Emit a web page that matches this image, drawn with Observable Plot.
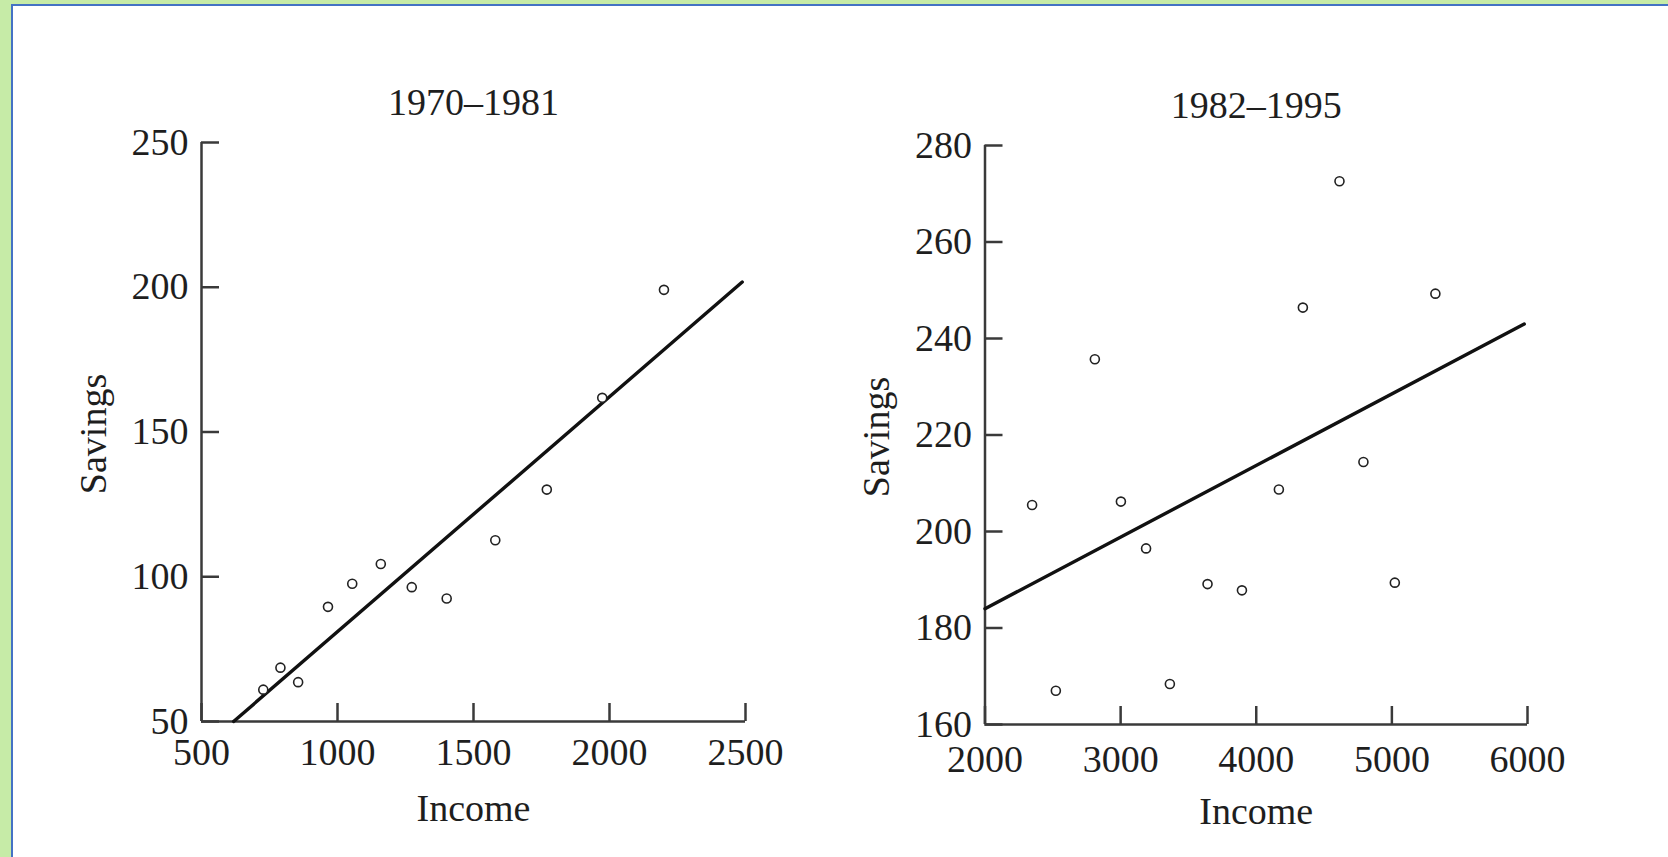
<!DOCTYPE html>
<html>
<head>
<meta charset="utf-8">
<script src="https://cdn.jsdelivr.net/npm/d3@7"></script>
<script src="https://cdn.jsdelivr.net/npm/@observablehq/plot@0.6"></script>
<style>
  html, body { margin: 0; padding: 0; width: 1668px; height: 857px; overflow: hidden; background: #c6eba7; }
  #card { position: absolute; left: 11px; top: 4px; width: 1680px; height: 870px; background: #fff;
          border-left: 2px solid #4472c4; border-top: 2px solid #4472c4; }
  .panel { position: absolute; top: 0; }
  .panel svg { display: block; overflow: visible; }
</style>
</head>
<body>
<div id="card"></div>
<div id="left" class="panel" style="left:0px"></div>
<div id="right" class="panel" style="left:834px"></div>
<script>
// ---- Data: 1970–1981 ----
const incomeA  = [727.1, 790.2, 855.3, 965.0, 1054.2, 1159.2, 1273.0, 1401.4, 1580.1, 1769.5, 1973.3, 2200.2];
const savingsA = [61.0, 68.6, 63.6, 89.6, 97.6, 104.4, 96.4, 92.5, 112.6, 130.1, 161.8, 199.1];
const fitIncomeA  = [618, 2488];
const fitSavingsA = [50, 201.8];
const xTicksA = [500, 1000, 1500, 2000, 2500];
const yTicksA = [50, 100, 150, 200, 250];

// ---- Data: 1982–1995 ----
const incomeB  = [2347.3, 2522.4, 2810.0, 3002.0, 3187.6, 3363.1, 3640.8, 3894.5, 4166.8, 4343.7, 4613.7, 4790.2, 5021.7, 5320.8];
const savingsB = [205.5, 167.0, 235.7, 206.2, 196.5, 168.4, 189.1, 187.8, 208.7, 246.4, 272.6, 214.4, 189.4, 249.3];
const fitIncomeB  = [2000, 5976];
const fitSavingsB = [184.0, 243.0];
const xTicksB = [2000, 3000, 4000, 5000, 6000];
const yTicksB = [160, 180, 200, 220, 240, 260, 280];

const titles = ["1970–1981", "1982–1995"];
const xLabel = "Income";
const yLabel = "Savings";

const FONT = "'Liberation Serif', 'Times New Roman', serif";

function panel({income, savings, fitX, fitY, xTicks, yTicks, title, m, xPad}) {
  const W = 834, H = 857;
  const fw = W - m.left - m.right, fh = H - m.top - m.bottom;
  const pts = income.map((x, i) => ({x, y: savings[i]}));
  const fit = fitX.map((x, i) => ({x, y: fitY[i]}));
  const axisColor = "#3a3a3a";
  return Plot.plot({
    width: W, height: H,
    marginLeft: m.left, marginRight: m.right, marginTop: m.top, marginBottom: m.bottom,
    style: {fontFamily: FONT, fontSize: "38px", color: "#1e1e1e", background: "transparent", overflow: "visible"},
    x: {domain: [xTicks[0], xTicks[xTicks.length - 1]]},
    y: {domain: [yTicks[0], yTicks[yTicks.length - 1]]},
    marks: [
      Plot.axisX({ticks: xTicks, tickSize: 0, tickPadding: xPad, label: null, tickFormat: d => String(d)}),
      Plot.axisY({ticks: yTicks, tickSize: 0, tickPadding: 13, label: null, tickFormat: d => String(d)}),
      Plot.tickY(yTicks, {y: d => d, insetRight: fw - 18, stroke: axisColor, strokeWidth: 2.5}),
      Plot.tickX(xTicks, {x: d => d, insetTop: fh - 18, stroke: axisColor, strokeWidth: 2.5}),
      Plot.ruleX([xTicks[0]], {stroke: axisColor, strokeWidth: 2.5}),
      Plot.ruleY([yTicks[0]], {stroke: axisColor, strokeWidth: 2.5}),
      Plot.line(fit, {x: "x", y: "y", stroke: "#111", strokeWidth: 3.4}),
      Plot.dot(pts, {x: "x", y: "y", r: 4.5, stroke: "#222", strokeWidth: 1.6, fill: "white"}),
      Plot.text([title], {frameAnchor: "top", dy: -40, lineAnchor: "middle", textAnchor: "middle", fill: "#1e1e1e"}),
      Plot.text([xLabel], {frameAnchor: "bottom", dy: 87, lineAnchor: "middle", textAnchor: "middle", fill: "#1e1e1e"}),
      Plot.text([yLabel], {frameAnchor: "left", dx: -108, dy: 2, rotate: -90, lineAnchor: "middle", textAnchor: "middle", fill: "#1e1e1e"})
    ]
  });
}

document.getElementById("left").append(panel({
  income: incomeA, savings: savingsA, fitX: fitIncomeA, fitY: fitSavingsA,
  xTicks: xTicksA, yTicks: yTicksA, title: titles[0], xPad: 17,
  m: {left: 201, right: 89, top: 142, bottom: 136}
}));
document.getElementById("right").append(panel({
  income: incomeB, savings: savingsB, fitX: fitIncomeB, fitY: fitSavingsB,
  xTicks: xTicksB, yTicks: yTicksB, title: titles[1], xPad: 21,
  m: {left: 150.5, right: 141, top: 145, bottom: 133}
}));
</script>
</body>
</html>
